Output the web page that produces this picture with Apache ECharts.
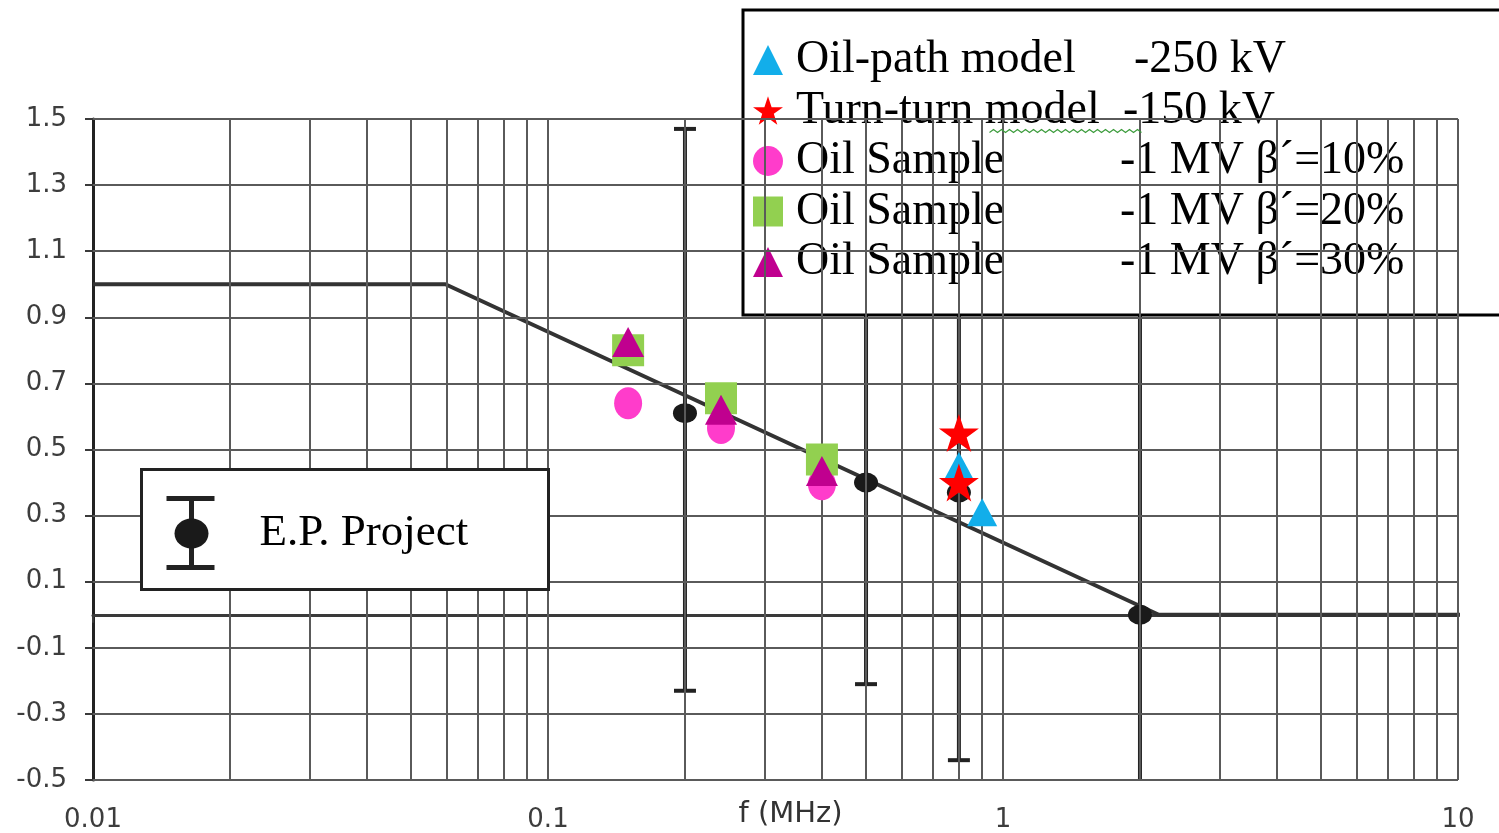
<!DOCTYPE html>
<html>
<head>
<meta charset="utf-8">
<script src="https://cdn.jsdelivr.net/npm/echarts@6/dist/echarts.min.js"></script>
<style>
html,body{margin:0;padding:0;background:#fff;}
#chart{width:1499px;height:833px;}
</style>
</head>
<body>
<div id="chart"></div>
<script>
// ---- data ----
const yTicks = [-0.5, -0.3, -0.1, 0.1, 0.3, 0.5, 0.7, 0.9, 1.1, 1.3, 1.5];
const xGridValues = [0.02,0.03,0.04,0.05,0.06,0.07,0.08,0.09,0.1,
                     0.2,0.3,0.4,0.5,0.6,0.7,0.8,0.9,1,
                     2,3,4,5,6,7,8,9,10];

// limit curve (piecewise)
const trendFreq = [0.01, 0.0595, 2.2, 12.3];
const trendValue = [1.0, 1.0, 0.0, 0.0];

// E.P. Project points with error bars
const epFreq  = [0.2, 0.5, 0.8, 2.0];
const epValue = [0.61, 0.40, 0.37, 0.0];
const epLow   = [-0.23, -0.21, -0.44, -0.56];
const epHigh  = [1.47, 1.01, 1.18, 1.0];

// Oil-path model -250 kV
const oilPathFreq = [0.8, 0.9];
const oilPathValue = [0.45, 0.31];
// Turn-turn model -150 kV
const turnFreq = [0.8, 0.8];
const turnValue = [0.55, 0.40];
// Oil samples -1 MV
const sampleFreq = [0.15, 0.24, 0.4];
const oil10Value = [0.64, 0.565, 0.395];
const oil20Value = [0.80, 0.655, 0.47];
const oil30Value = [0.825, 0.62, 0.435];

const names = {
  oilPath: 'Oil-path model -250 kV',
  turn: 'Turn-turn model -150 kV',
  s10: 'Oil Sample -1 MV β´=10%',
  s20: 'Oil Sample -1 MV β´=20%',
  s30: 'Oil Sample -1 MV β´=30%'
};
const legendText = {};
legendText[names.oilPath] = '{a1|Oil-path model}{b|-250 kV}';
legendText[names.turn] = '{a2|Turn-turn model}{b|-150 kV}';
legendText[names.s10] = '{a3|Oil Sample}{b|-1 MV β´=10%}';
legendText[names.s20] = '{a3|Oil Sample}{b|-1 MV β´=20%}';
legendText[names.s30] = '{a3|Oil Sample}{b|-1 MV β´=30%}';

const starPath = 'path://M50,0 L61.8,35.3 L98.9,35.3 L68.9,57.1 L80.3,92.4 L50,70.6 L19.7,92.4 L31.1,57.1 L1.1,35.3 L38.2,35.3 Z';

function zip(a, b) { return a.map((v, i) => [v, b[i]]); }

// spell-check style wavy underline in the legend (decoration)
const wavy = [];
for (let i = 0; i <= 38; i++) { wavy.push([i * 4, (i % 2) ? 0 : 3]); }

const chart = echarts.init(document.getElementById('chart'), null, {renderer: 'canvas'});

const gridLineStyle = {color: '#5a5a5a', width: 2, type: 'solid'};

const option = {
  animation: false,
  backgroundColor: '#fff',
  grid: {left: 93, right: 41, top: 119, bottom: 53, containLabel: false, outerBoundsMode: 'none'},
  xAxis: {
    type: 'log', logBase: 10, min: 0.01, max: 10,
    name: 'f (MHz)', nameLocation: 'middle', nameGap: 20, nameMoveOverlap: false,
    nameTextStyle: {fontFamily: 'DejaVu Sans', fontSize: 29, color: '#333', padding: [0, 0, 0, 30]},
    axisLine: {show: true, lineStyle: {color: '#3a3a3a', width: 3}},
    axisTick: {show: true, inside: false, length: 8, lineStyle: {color: '#3a3a3a', width: 2}},
    axisLabel: {margin: 27, fontFamily: 'DejaVu Sans', fontSize: 26, color: '#3d3d3d',
      formatter: v => String(+(+v).toPrecision(3))},
    splitLine: {show: false},
    minorTick: {show: false}, minorSplitLine: {show: false}
  },
  yAxis: {
    type: 'value', min: -0.5, max: 1.5,
    axisLine: {show: true, onZero: false, lineStyle: {color: '#222', width: 3}},
    axisTick: {show: true, length: 8, customValues: yTicks, lineStyle: {color: '#3a3a3a', width: 2}},
    axisLabel: {margin: 26, customValues: yTicks, fontFamily: 'DejaVu Sans', fontSize: 26, color: '#3d3d3d',
      formatter: v => (+v).toFixed(1)},
    splitLine: {show: false}
  },
  legend: [{
    data: [names.oilPath, names.turn, names.s10, names.s20, names.s30],
    orient: 'vertical', left: 743, top: 10,
    padding: [25, 120, 28, 10],
    itemGap: 0.5, itemWidth: 30, itemHeight: 30,
    backgroundColor: '#fff', borderColor: '#000', borderWidth: 3,
    selectedMode: false,
    formatter: n => legendText[n],
    textStyle: {
      fontFamily: 'Liberation Serif', fontSize: 46, color: '#000', lineHeight: 50,
      rich: {
        a1: {fontFamily: 'Liberation Serif', fontSize: 46, width: 338, padding: [0, 0, 0, 8], lineHeight: 50},
        a2: {fontFamily: 'Liberation Serif', fontSize: 46, width: 327, padding: [0, 0, 0, 8], lineHeight: 50},
        a3: {fontFamily: 'Liberation Serif', fontSize: 46, width: 324, padding: [0, 0, 0, 8], lineHeight: 50},
        b: {fontFamily: 'Liberation Serif', fontSize: 46, lineHeight: 50}
      }
    }
  }],
  graphic: [{
    type: 'group', left: 140, top: 468, z: 50,
    children: [
      {type: 'rect', shape: {x: 0, y: 0, width: 407, height: 120}, style: {fill: '#fff', stroke: '#222', lineWidth: 3}, z: 50},
      {type: 'line', shape: {x1: 50, y1: 29, x2: 50, y2: 98}, style: {stroke: '#222', lineWidth: 5}, z: 51},
      {type: 'line', shape: {x1: 25, y1: 29, x2: 73, y2: 29}, style: {stroke: '#222', lineWidth: 5}, z: 51},
      {type: 'line', shape: {x1: 25, y1: 98, x2: 73, y2: 98}, style: {stroke: '#222', lineWidth: 5}, z: 51},
      {type: 'ellipse', shape: {cx: 50, cy: 64, rx: 17, ry: 15}, style: {fill: '#1a1a1a'}, z: 52},
      {type: 'text', x: 118, y: 64, style: {text: 'E.P. Project', font: '45px "Liberation Serif"', fill: '#000', verticalAlign: 'middle'}, z: 52}
    ]
  }, {
    type: 'polyline', left: 987, top: 127, z: 60,
    shape: {points: wavy}, style: {stroke: '#3c9c3c', lineWidth: 1.2, fill: null}
  }],
  series: [
    {
      name: 'grid', type: 'line', data: [], z: 1, silent: true,
      markLine: {
        silent: true, symbol: ['none', 'none'], label: {show: false}, animation: false,
        lineStyle: gridLineStyle, emphasis: {disabled: true},
        data: xGridValues.map(v => ({xAxis: v})).concat(yTicks.map(v => ({yAxis: v})))
      }
    },
    {
      name: 'limit', type: 'line', data: zip(trendFreq, trendValue), clip: false,
      symbol: 'none', z: 3, silent: true,
      lineStyle: {color: '#333', width: 4}
    },
    {
      name: 'E.P. Project bars', type: 'custom', clip: true, z: 3, silent: true,
      encode: {x: 0, y: [1, 2, 3]},
      data: epFreq.map((f, i) => [f, epValue[i], epLow[i], epHigh[i]]),
      renderItem: function (params, api) {
        const x = api.value(0);
        const pLo = api.coord([x, api.value(2)]);
        const pHi = api.coord([x, api.value(3)]);
        const cap = 11;
        const st = {stroke: '#222', lineWidth: 4};
        return {type: 'group', children: [
          {type: 'line', shape: {x1: pLo[0], y1: pLo[1], x2: pHi[0], y2: pHi[1]}, style: st},
          {type: 'line', shape: {x1: pLo[0] - cap, y1: pLo[1], x2: pLo[0] + cap, y2: pLo[1]}, style: st},
          {type: 'line', shape: {x1: pHi[0] - cap, y1: pHi[1], x2: pHi[0] + cap, y2: pHi[1]}, style: st}
        ]};
      }
    },
    {
      name: 'E.P. Project', type: 'scatter', data: zip(epFreq, epValue), z: 4,
      symbol: 'circle', symbolSize: [24, 20], itemStyle: {color: '#1a1a1a', opacity: 1}
    },
    {
      name: names.s10, type: 'scatter', data: zip(sampleFreq, oil10Value), z: 5,
      symbol: 'circle', symbolSize: [28, 32], itemStyle: {color: '#FF3CCB', opacity: 1}
    },
    {
      name: names.s20, type: 'scatter', data: zip(sampleFreq, oil20Value), z: 6,
      symbol: 'rect', symbolSize: [32, 32], itemStyle: {color: '#92D050', opacity: 1}
    },
    {
      name: names.s30, type: 'scatter', data: zip(sampleFreq, oil30Value), z: 7,
      symbol: 'triangle', symbolSize: [32, 30], itemStyle: {color: '#C0008F', opacity: 1}
    },
    {
      name: names.oilPath, type: 'scatter', data: zip(oilPathFreq, oilPathValue), z: 8,
      symbol: 'triangle', symbolSize: [30, 28], itemStyle: {color: '#12AEEA', opacity: 1}
    },
    {
      name: names.turn, type: 'scatter', data: zip(turnFreq, turnValue), z: 9,
      symbol: starPath, symbolSize: [40, 38], itemStyle: {color: '#FF0000', opacity: 1}
    }
  ]
};
chart.setOption(option);
</script>
</body>
</html>
